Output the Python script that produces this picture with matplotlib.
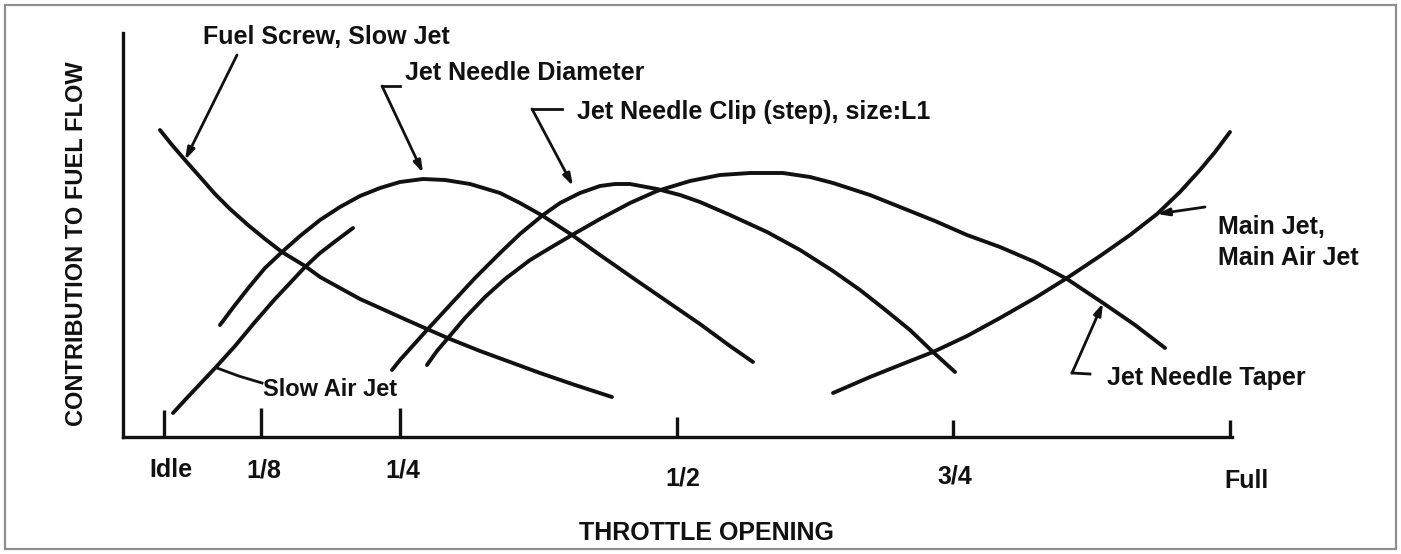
import matplotlib
matplotlib.use("Agg")
import matplotlib.pyplot as plt
from matplotlib.patches import Rectangle

# ---------------- data (throttle opening in % of full, contribution in relative units) ----
fuel_screw_x = [3.34, 4.43, 5.60, 6.96, 8.31, 9.67, 11.29, 12.83, 14.36, 16.44, 17.80,
                19.60, 21.41, 23.22, 25.02, 27.46, 29.54, 32.25, 34.96, 37.67, 40.83, 44.17]
fuel_screw_y = [76.75, 73, 69.25, 65, 60.75, 57, 53, 49.5, 46.25, 42.75, 40,
                37.25, 34.5, 32.25, 30, 27, 24.5, 21.5, 18.75, 16, 13, 10]

slow_air_x = [4.52, 5.60, 6.96, 8.49, 10.12, 11.92, 13.73, 15.09, 16.44, 17.80, 19.33, 20.78]
slow_air_y = [6, 9.25, 13.25, 17.75, 22.75, 28.75, 34.5, 38.5, 42.5, 46, 49.25, 52.25]

needle_diam_x = [8.76, 10.12, 11.47, 12.83, 14.36, 15.99, 17.80, 19.60, 21.41, 23.22, 25.02, 27.10,
                 29.09, 31.35, 34.06, 35.86, 37.94, 40.56, 43.09, 46.07, 48.96, 52.12, 54.83, 56.91]
needle_diam_y = [28, 33, 37.75, 42.25, 46.25, 50.25, 54.25, 57.5, 60.25, 62.25, 63.75, 64.5,
                 64.25, 63.25, 61, 58.5, 55.25, 50.5, 45.5, 39.75, 34.25, 28.25, 22.75, 18.75]

needle_clip_x = [24.30, 25.02, 27.46, 29.54, 31.80, 34.06, 35.86, 37.94, 39.48, 41.28, 43.09, 44.44,
                 45.80, 48.24, 50.32, 52.12, 54.83, 58.18, 61.16, 64.14, 66.58, 68.65, 71.09, 73.17, 75.16]
needle_clip_y = [16.75, 19.25, 26.75, 33, 39.75, 46, 50.75, 55.5, 58.5, 61, 62.75, 63.25,
                 63.25, 62, 60.5, 58.75, 55.5, 51.25, 46.75, 41.5, 36.75, 32.25, 26.75, 21.25, 16.25]

needle_taper_x = [27.46, 28.36, 29.36, 30.89, 32.70, 34.51, 36.77, 38.57, 40.56, 43.09, 45.80, 48.24,
                  51.22, 53.93, 56.64, 59.62, 62.06, 64.14, 67.48, 70.19, 73.35, 76.24, 79.22, 82.38,
                  85.28, 88.53, 91.42, 94.13]
needle_taper_y = [18, 21.5, 24.75, 29.75, 35, 39.5, 44.25, 47.25, 50.5, 54.5, 58.5, 61.5,
                  64, 65.5, 66, 66, 65, 63.5, 60.5, 57.5, 54, 50.5, 47.5, 43.75,
                  39.5, 33.5, 28, 22.25]

main_jet_x = [64.14, 67.48, 70.19, 73.17, 76.24, 79.22, 82.38, 85.28, 88.26, 90.97, 93.41,
              95.48, 97.29, 98.65, 100.0]
main_jet_y = [11, 15, 18, 21.25, 25.25, 29.75, 34.75, 39.75, 45.25, 50.5, 55.75,
              61.25, 66.75, 71.25, 76.25]

tick_pos = [3.7, 12.5, 25, 50, 75, 100]
tick_labels = ["Idle", "1/8", "1/4", "1/2", "3/4", "Full"]
tick_heights = [6.75, 7.25, 7.25, 5, 4.25, 4.25]

# ---------------- layout ----------------
tick_label_dx = [0.6, 0.2, 0.3, 0.6, 0.1, 1.5]
tick_label_y = [-8.25, -8.25, -8.5, -10.25, -10, -11]

FONT = "Liberation Sans"
FS = 18
INK = "#111111"
LW = 2.8

fig = plt.figure(figsize=(14.01, 5.54), dpi=100)
fig.patch.set_facecolor("white")
fig.add_artist(Rectangle((5 / 1401, 5 / 554), 1391 / 1401, 544 / 554,
                         transform=fig.transFigure, fill=False,
                         edgecolor="#8f8f8f", lw=1.6))

ax = fig.add_axes([123 / 1401, (554 - 437) / 554, 1109 / 1401, 404 / 554])
ax.set_xlim(0, 100.18)
ax.set_ylim(0, 101)
for s in ["top", "right"]:
    ax.spines[s].set_visible(False)
for s in ["left", "bottom"]:
    ax.spines[s].set_linewidth(2.4)
    ax.spines[s].set_color(INK)
    ax.spines[s].set_capstyle("projecting")
ax.set_xticks([])
ax.set_yticks([])
ax.patch.set_alpha(0)

curve_kw = dict(color=INK, lw=LW, solid_capstyle="round", solid_joinstyle="round",
                clip_on=False)
ax.plot(fuel_screw_x, fuel_screw_y, **curve_kw)
ax.plot(slow_air_x, slow_air_y, **curve_kw)
ax.plot(needle_diam_x, needle_diam_y, **curve_kw)
ax.plot(needle_clip_x, needle_clip_y, **curve_kw)
ax.plot(needle_taper_x, needle_taper_y, **curve_kw)
ax.plot(main_jet_x, main_jet_y, **curve_kw)

# ticks on the throttle axis
ax.vlines(tick_pos, 0, tick_heights, color=INK, lw=2.4, clip_on=False)
for p, lab, dx, ly in zip(tick_pos, tick_labels, tick_label_dx, tick_label_y):
    ax.text(p + dx, ly, lab, ha="center", va="center", fontsize=FS,
            fontweight="bold", family=FONT, color=INK, clip_on=False)

txt_kw = dict(fontsize=FS, fontweight="bold", family=FONT, color=INK,
              va="center", ha="left", clip_on=False)
arrow_kw = dict(arrowstyle="-|>,head_length=0.7,head_width=0.22", color=INK,
                lw=2.0, shrinkA=0, shrinkB=0)

# Fuel Screw, Slow Jet
ax.text(7.23, 100, "Fuel Screw, Slow Jet", **txt_kw)
ax.annotate("", xy=(5.60, 69.25), xytext=(10.30, 95.5), arrowprops=arrow_kw,
            annotation_clip=False)

# Jet Needle Diameter
ax.text(25.47, 91, "Jet Needle Diameter", **txt_kw)
ax.plot([25.02, 23.40], [87.75, 87.75], color=INK, lw=2.0, clip_on=False)
ax.annotate("", xy=(27.10, 66), xytext=(23.40, 87.75), arrowprops=arrow_kw,
            annotation_clip=False)

# Jet Needle Clip
ax.text(41.01, 81.25, "Jet Needle Clip (step), size:L1", **txt_kw)
ax.plot([39.66, 36.95], [82, 82], color=INK, lw=2.0)
ax.annotate("", xy=(40.65, 62.75), xytext=(36.95, 82), arrowprops=arrow_kw)

# Slow Air Jet
ax.plot([8.49, 10.5, 12.56], [17.25, 15.2, 13.5], color=INK, lw=2.0)
ax.text(12.65, 11.75, "Slow Air Jet", **dict(txt_kw, fontsize=17))

# Main Jet
ax.text(98.92, 52.5, "Main Jet,", **txt_kw)
ax.text(98.92, 44.75, "Main Air Jet", **txt_kw)
ax.annotate("", xy=(93.41, 55.75), xytext=(97.74, 57.5), arrowprops=arrow_kw,
            annotation_clip=False)

# Jet Needle Taper
ax.text(88.89, 14.75, "Jet Needle Taper", **txt_kw)
ax.plot([87.35, 85.73], [15.75, 16], color=INK, lw=2.0)
ax.annotate("", xy=(88.53, 33.5), xytext=(85.73, 16), arrowprops=arrow_kw)

# axis titles
ax.text(52.67, -24, "THROTTLE OPENING", ha="center", va="center", fontsize=FS,
        fontweight="bold", family=FONT, color=INK, clip_on=False)
ax.text(-4.16, 48.25, "CONTRIBUTION TO FUEL FLOW", ha="center", va="center",
        rotation=90, fontsize=17, fontweight="bold", family=FONT, color=INK,
        clip_on=False)

fig.savefig("out.png", dpi=100)
